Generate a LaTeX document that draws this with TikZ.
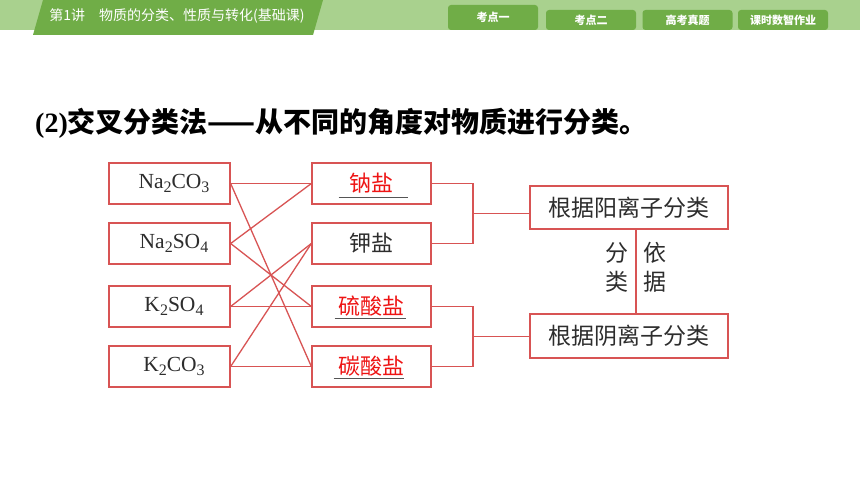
\documentclass[tikz,border=0pt]{standalone}
\usepackage{fontspec}
\setmainfont{Liberation Serif}
\newfontfamily\cjk{Noto Sans CJK SC}
\usetikzlibrary{positioning}

\definecolor{bandlight}{RGB}{169,209,142}
\definecolor{banddark}{RGB}{112,173,71}
\definecolor{boxred}{RGB}{216,84,84}
\definecolor{saltred}{RGB}{238,20,20}
\definecolor{inkgray}{RGB}{45,45,45}
\definecolor{ulgray}{RGB}{85,85,85}

\newcommand{\chemsub}[1]{\raisebox{-0.45ex}{\fontsize{16}{16}\selectfont #1}}

\tikzset{
  tab/.style={fill=banddark, rounded corners=3pt, minimum width=90pt, inner sep=0pt, text=white, font=\cjk\bfseries\fontsize{11}{11}\selectfont},
  salt/.style={draw=boxred, line width=1.3pt, minimum width=121pt, minimum height=41pt, inner sep=0pt, text=inkgray, font=\fontsize{21.5}{21.5}\selectfont},
  kind/.style={draw=boxred, line width=1.3pt, minimum width=119pt, minimum height=41pt, inner sep=0pt, text=inkgray, font=\cjk\fontsize{22}{22}\selectfont},
  basis/.style={draw=boxred, line width=1.3pt, minimum width=198pt, minimum height=43pt, inner sep=0pt, text=inkgray, font=\cjk\fontsize{23}{23}\selectfont},
  link/.style={draw=boxred, line width=1.3pt},
  uline/.style={draw=ulgray, line width=1.3pt},
  note/.style={text=inkgray, inner sep=0pt, align=center, font=\cjk\fontsize{23}{29}\selectfont}
}

\begin{document}
\begin{tikzpicture}[x=1pt, y=-1pt]
                \useasboundingbox (0,0) rectangle (860,484);
                \fill[white] (0,0) rectangle (860,484);
                \fill[bandlight] (0,0) rectangle (860,30);
                \fill[banddark] (43,0) -- (323,0) -- (313,35) -- (33,35) -- cycle;
                \node[text=white, inner sep=0pt, font=\cjk\fontsize{14}{14}\selectfont] (lesson) at (177,16) {第1讲\quad 物质的分类、性质与转化(基础课)};
                \node[tab, minimum height=25pt] (kd1) at (493,17.5) {考点一};
                \node[tab, minimum height=20pt] (kd2) at (591,20) {考点二};
                \node[tab, minimum height=20pt] (gk) at (687.5,20) {高考真题};
                \node[tab, minimum height=20pt] (zy) at (783,20) {课时数智作业};
                \node[anchor=west, inner sep=0pt, text=black, font=\bfseries\fontsize{28}{28}\selectfont] (title) at (35,123) {(2){\cjk 交叉分类法——从不同的角度对物质进行分类。}};
                \node[salt] (NaCO) at (169.5,183.5) {\hspace*{9pt}Na\chemsub{2}CO\chemsub{3}};
                \node[salt] (NaSO) at (169.5,243.5) {\hspace*{9pt}Na\chemsub{2}SO\chemsub{4}};
                \node[salt] (KSO) at (169.5,306.5) {\hspace*{9pt}K\chemsub{2}SO\chemsub{4}};
                \node[salt] (KCO) at (169.5,366.5) {\hspace*{9pt}K\chemsub{2}CO\chemsub{3}};
                \node[kind, text=saltred] (Na) at (371.5,183.5) {钠盐};
                \node[kind] (K) at (371.5,243.5) {钾盐};
                \node[kind, text=saltred] (SO) at (371.5,306.5) {硫酸盐};
                \node[kind, text=saltred] (CO) at (371.5,366.5) {碳酸盐};
                \node[basis] (cation) at (629,207.5) {根据阳离子分类};
                \node[basis, minimum height=44pt] (anion) at (629,336) {根据阴离子分类};
                \node[note] (fenlei) at (617,267.5) {分\\类};
                \node[note] (yiju) at (655,267.5) {依\\据};
                \coordinate (j1) at (473,213.5);
                \coordinate (j2) at (473,336.5);
                \draw[uline] ([shift={(-33,-7)}]Na.south) -- ([shift={(36,-7)}]Na.south);
                \draw[uline] ([shift={(-37,-9)}]SO.south) -- ([shift={(34,-9)}]SO.south);
                \draw[uline] ([shift={(-38,-9)}]CO.south) -- ([shift={(32,-9)}]CO.south);
                \draw[link] (NaCO.east) -- (Na.west);
                \draw[link] (NaCO.east) -- (CO.west);
                \draw[link] (NaSO.east) -- (Na.west);
                \draw[link] (NaSO.east) -- (SO.west);
                \draw[link] (KSO.east) -- (K.west);
                \draw[link] (KSO.east) -- (SO.west);
                \draw[link] (KCO.east) -- (K.west);
                \draw[link] (KCO.east) -- (CO.west);
                \draw[link] (Na.east) -| (j1) |- (K.east);
                \draw[link] (SO.east) -| (j2) |- (CO.east);
                \draw[link] (j1) -- (j1 -| cation.west);
                \draw[link] (j2) -- (j2 -| anion.west);
                \draw[link] ([shift={(7,0)}]cation.south) -- ([shift={(7,0)}]anion.north);
\end{tikzpicture}
\end{document}
